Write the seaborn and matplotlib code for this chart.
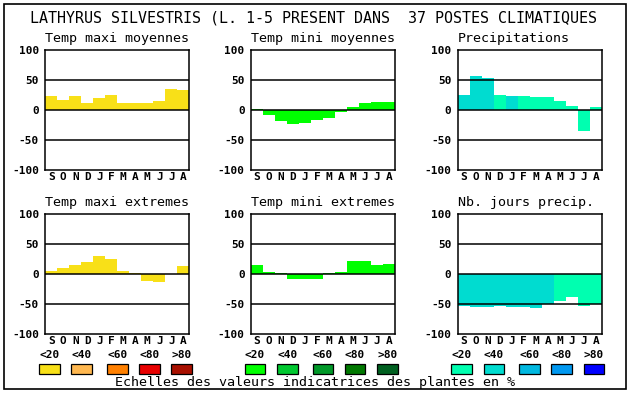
import matplotlib
matplotlib.use("Agg")
import matplotlib.pyplot as plt
from matplotlib.patches import Rectangle
import seaborn as sns
import pandas as pd

# ---- data ----
months = ['S', 'O', 'N', 'D', 'J', 'F', 'M', 'A', 'M', 'J', 'J', 'A']
scale_labels = ['<20', '<40', '<60', '<80', '>80']

tmax_moy = [23, 17, 23, 12, 20, 25, 12, 12, 12, 15, 35, 33]
tmax_moy_cls = [0] * 12
tmin_moy = [2, -8, -18, -23, -21, -16, -13, -4, 5, 12, 13, 13]
tmin_moy_cls = [0] * 12
precip = [25, 57, 53, 25, 23, 23, 22, 22, 15, 7, -35, 5]
precip_cls = [1, 1, 1, 0, 1, 0, 0, 0, 0, 0, 0, 0]
tmax_ext = [5.5, 10.5, 15.5, 20.5, 30.5, 25.5, 5.5, 2, -12, -14, 0, 14]
tmax_ext_cls = [0] * 12
tmin_ext = [15.5, 4, 2, -8, -8, -8, 2, 4, 22, 22, 15.5, 17]
tmin_ext_cls = [0] * 12
njours = [-53, -54.5, -54.5, -54, -54.5, -54.5, -57, -49.5, -45.5, -38, -53, -50]
njours_cls = [1, 1, 1, 1, 1, 1, 1, 1, 0, 0, 0, 0]

yellow_scale = ['#F8E018', '#FFB850', '#FF8000', '#E80000', '#A81000']
green_scale = ['#00FF00', '#00C830', '#009828', '#007800', '#006020']
blue_scale = ['#00FFB0', '#00DCD0', '#00B8E0', '#0098F0', '#0000FF']

title = "LATHYRUS SILVESTRIS (L. 1-5 PRESENT DANS  37 POSTES CLIMATIQUES"
footer = "Echelles des valeurs indicatrices des plantes en %"

panels = [
    ("Temp maxi moyennes", tmax_moy, tmax_moy_cls, yellow_scale),
    ("Temp mini moyennes", tmin_moy, tmin_moy_cls, green_scale),
    ("Precipitations", precip, precip_cls, blue_scale),
    ("Temp maxi extremes", tmax_ext, tmax_ext_cls, yellow_scale),
    ("Temp mini extremes", tmin_ext, tmin_ext_cls, green_scale),
    ("Nb. jours precip.", njours, njours_cls, blue_scale),
]

# ---- style ----
sns.set_theme(style="white")
plt.rcParams['font.family'] = ['DejaVu Sans Mono']

W, H = 630, 394
fig = plt.figure(figsize=(W / 100, H / 100), dpi=100)
fig.patch.set_facecolor('white')

# overlay in pixel coordinates
ov = fig.add_axes([0, 0, 1, 1], zorder=-5)
ov.set_xlim(0, W)
ov.set_ylim(H, 0)
ov.axis('off')

ov.add_patch(Rectangle((4, 4), 622, 385, fill=False, edgecolor='black', lw=1.2))
ov.text(30, 18, title, fontsize=10.8, ha='left', va='center', color='black')
ov.text(115, 382.5, footer, fontsize=9.6, ha='left', va='center', color='black')

col_left = [45.3, 251.0, 457.7]
row_top = [50.0, 214.0]
ax_w, ax_h = 144.0, 120.0

for i, (name, vals, cls, pal) in enumerate(panels):
    r, c = divmod(i, 3)
    left, top = col_left[c], row_top[r]
    ax = fig.add_axes([left / W, 1 - (top + ax_h) / H, ax_w / W, ax_h / H])
    df = pd.DataFrame({'pos': list(range(12)), 'value': vals,
                       'cls': [scale_labels[k] for k in cls]})
    palette = {scale_labels[k]: pal[k] for k in range(5)}
    sns.barplot(data=df, x='pos', y='value', hue='cls', palette=palette,
                dodge=False, width=1.0, errorbar=None, legend=False,
                linewidth=0, saturation=1, ax=ax)
    ax.set_xlim(-0.5, 11.5)
    ax.set_ylim(-100, 100)
    for yv in (50, 0, -50):
        ax.axhline(yv, color='black', lw=1.1, zorder=5)
    ax.set_xlabel('')
    ax.set_ylabel('')
    ax.set_xticks(range(12))
    ax.set_xticklabels(months, fontsize=8, fontweight='bold')
    ax.set_yticks([-100, -50, 0, 50, 100])
    ax.set_yticklabels(['-100', '-50', '0', '50', '100'], fontsize=8, fontweight='bold')
    ax.tick_params(axis='both', length=0, colors='black')
    ax.tick_params(axis='y', pad=4.5)
    ax.tick_params(axis='x', pad=1.5)
    for sp in ax.spines.values():
        sp.set_visible(True)
        sp.set_color('black')
        sp.set_linewidth(1.1)
        sp.set_zorder(6)
    ax.set_facecolor('white')
    ov.text(left, top - 12, name, fontsize=9.6, ha='left', va='center', color='black')

# legends (color scales) under bottom row
offsets = [0, 32.3, 68, 100, 132.3]
for c, pal in enumerate([yellow_scale, green_scale, blue_scale]):
    base = col_left[c] - 6.3
    for k in range(5):
        x0 = base + offsets[k]
        ov.add_patch(Rectangle((x0, 364), 20.5, 9.7, facecolor=pal[k],
                               edgecolor='black', lw=0.9))
        ov.text(x0 + 10.25, 354.5, scale_labels[k], fontsize=8, fontweight='bold',
                ha='center', va='center', color='black')

fig.savefig('out.png', dpi=100, facecolor='white')
